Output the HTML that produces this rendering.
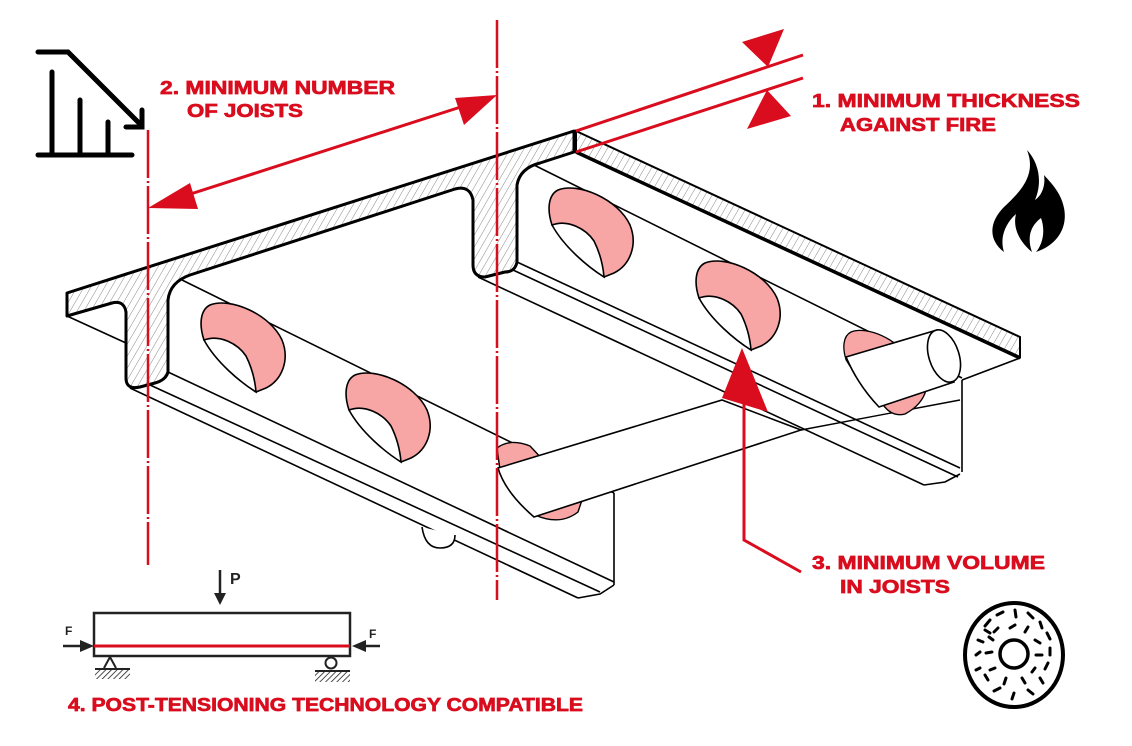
<!DOCTYPE html>
<html><head><meta charset="utf-8"><style>
html,body{margin:0;padding:0;background:#fff;}
svg{display:block;}
.t{font-family:"Liberation Sans",Arial,sans-serif;font-weight:bold;fill:#d90d1e;stroke:#d90d1e;stroke-width:0.7;font-size:18.5px;}
</style></head><body>
<svg width="1132" height="746" viewBox="0 0 1132 746" xmlns="http://www.w3.org/2000/svg">
<defs>
<pattern id="h" width="6" height="6" patternUnits="userSpaceOnUse" patternTransform="rotate(30)">
<rect width="6" height="6" fill="#fff"/><line x1="0" y1="0" x2="0" y2="6" stroke="#888" stroke-width="1"/>
</pattern>
<pattern id="g" width="4" height="4" patternUnits="userSpaceOnUse" patternTransform="rotate(45)">
<rect width="4" height="4" fill="#fff"/><line x1="0" y1="0" x2="0" y2="4" stroke="#222" stroke-width="1.6"/>
</pattern>
<g id="hole">
<path d="M10,5 C30,-3 70,14 82,40 C90,60 82,80 66,88 L56,92 C46,86 30,62 4,40 C-1,25 0,10 10,5 Z" fill="#f8a5a5" stroke="#000" stroke-width="1.6"/>
<path d="M4,40 C20,34 38,44 46,56 C52,68 55,80 56,92 C40,82 16,62 4,40 Z" fill="#fff" stroke="#000" stroke-width="1.6"/>
</g>
</defs>

<g stroke="#000" stroke-width="1.6" fill="none">
<line x1="67" y1="316" x2="126" y2="343"/>
<line x1="182" y1="280" x2="614" y2="493"/>
<line x1="168" y1="372" x2="614" y2="582"/>
<line x1="150" y1="385" x2="600" y2="592"/>
<line x1="130" y1="388" x2="578" y2="598"/>
<line x1="614" y1="493" x2="614" y2="585"/>
<polyline points="578,598 600,594 614,585"/>
<line x1="534" y1="165" x2="962" y2="378"/>
<line x1="517" y1="262" x2="960" y2="468"/>
<line x1="513" y1="270" x2="958" y2="477"/>
<line x1="478" y1="277" x2="924" y2="485"/>
<line x1="962" y1="380" x2="962" y2="472"/>
<polyline points="924,485 945,482 960,474"/>
<line x1="1020" y1="358" x2="962" y2="380"/>
<line x1="801" y1="430" x2="960" y2="400" stroke-width="1.4"/>
<path d="M422,527 Q425,548 440,548 Q455,548 455,535" fill="#fff"/>
</g>

<use href="#hole" transform="translate(200,300)"/>
<use href="#hole" transform="translate(345,370)"/>
<use href="#hole" transform="translate(548,185)"/>
<use href="#hole" transform="translate(695,258)"/>
<use href="#hole" transform="translate(843,328) scale(0.8)"/>
<path d="M497,448 Q510,438 530,446 L545,462 L500,470 Z" fill="#f8a5a5" stroke="#000" stroke-width="1.4"/>
<path d="M535,515 Q560,526 578,512 L582,500 L545,505 Z" fill="#f8a5a5" stroke="#000" stroke-width="1.4"/>
<path d="M880,400 Q890,418 905,414 Q922,405 926,390 L900,392 Z" fill="#f8a5a5" stroke="#000" stroke-width="1.4"/>

<path d="M498,468 L722,400 L801,430 L534,517 Q505,492 498,468 Z" fill="#fff" stroke="#000" stroke-width="1.6"/>
<path d="M846,357 L937,330 L954,382 L879,407 Q858,385 846,357 Z" fill="#fff" stroke="#000" stroke-width="1.6"/>
<ellipse cx="944" cy="356" rx="15" ry="27" transform="rotate(-18 944 356)" fill="#fff" stroke="#000" stroke-width="1.6"/>

<path d="M576,131 L1020,337 L1020,357 L576,152 Z" fill="url(#h)" stroke="#000" stroke-width="2"/>
<line x1="576" y1="152" x2="1020" y2="358" stroke="#000" stroke-width="3.5"/>
<path d="M67,293 L574,131 L574,152 L540,163 Q520,168 517,185 L517,262 Q515,272 505,272 L485,277 Q473,277 473,265 L473,200 Q470,185 455,189 L190,275 Q170,282 168,300 L168,372 Q166,380 155,383 L140,387 Q126,390 126,378 L126,312 Q124,300 112,303 L67,316 Z" fill="url(#h)" stroke="#000" stroke-width="3" stroke-linejoin="round"/>

<g stroke="#d90d1e" fill="#d90d1e">
<line x1="148" y1="130" x2="148" y2="565" stroke-width="2.5" stroke-dasharray="48 3 2 3"/>
<line x1="497" y1="20" x2="497" y2="600" stroke-width="2.5" stroke-dasharray="48 3 2 3"/>
<line x1="175" y1="199" x2="470" y2="104" stroke-width="3"/>
<polygon points="148,208 190,183 198,209" stroke="none"/>
<polygon points="497,95 455,98 464,125" stroke="none"/>
<line x1="576" y1="131" x2="803" y2="55" stroke-width="3"/>
<line x1="576" y1="152" x2="803" y2="78" stroke-width="3"/>
<polygon points="742,42 784,29 768,67" stroke="none"/>
<polygon points="767,90 791,116 747,129" stroke="none"/>
<polyline points="744,395 744,540 801,572" fill="none" stroke-width="3"/>
<polygon points="742,348 722,398 768,412" stroke="none"/>
</g>

<text class="t" x="160" y="94" textLength="235" lengthAdjust="spacingAndGlyphs">2. MINIMUM NUMBER</text>
<text class="t" x="187" y="117" textLength="116" lengthAdjust="spacingAndGlyphs">OF JOISTS</text>
<text class="t" x="812" y="107" textLength="268" lengthAdjust="spacingAndGlyphs">1. MINIMUM THICKNESS</text>
<text class="t" x="840" y="131" textLength="156" lengthAdjust="spacingAndGlyphs">AGAINST FIRE</text>
<text class="t" x="812" y="569" textLength="233" lengthAdjust="spacingAndGlyphs">3. MINIMUM VOLUME</text>
<text class="t" x="840" y="593" textLength="110" lengthAdjust="spacingAndGlyphs">IN JOISTS</text>
<text class="t" x="68" y="711" textLength="515" lengthAdjust="spacingAndGlyphs">4. POST-TENSIONING TECHNOLOGY COMPATIBLE</text>

<g stroke="#000" stroke-width="5" stroke-linecap="round" fill="none">
<polyline points="38,52 68,52 142,126"/>
<polyline points="142,110 142,127 126,127"/>
<line x1="52" y1="72" x2="52" y2="155"/>
<line x1="80" y1="100" x2="80" y2="155"/>
<line x1="108" y1="122" x2="108" y2="155"/>
<line x1="38" y1="155" x2="132" y2="155"/>
</g>

<path d="M1027,150 C1037,175 1020,192 1004,207 C989,222 988,240 1004,252 C999,236 1007,222 1016,214 C1012,230 1022,244 1032,252 C1027,238 1030,226 1041,218 C1046,232 1042,245 1036,252 C1057,245 1068,228 1064,208 C1061,192 1050,182 1044,175 C1046,188 1040,197 1035,200 C1042,184 1040,164 1027,150 Z" fill="#000"/>

<g stroke="#000" fill="none" stroke-linecap="round">
<ellipse cx="1014" cy="655" rx="49" ry="52" stroke-width="4"/>
<circle cx="1014" cy="654" r="14" stroke-width="3.5"/>
<g stroke-width="3">
<path d="M990,620 l-5,6 M1003,612 l-6,3 M1015,610 l1,7 M1028,613 l5,5 M1040,622 l2,6 M1047,633 l3,6 M1050,648 l0,7 M1048,663 l-3,6 M1040,678 l3,5 M1028,690 l5,4 M1014,693 l-2,6 M1000,688 l-6,3 M988,680 l-3,-5 M980,668 l-4,2 M976,655 l4,-3 M978,640 l5,2 M985,630 l5,3 M998,628 l-4,4 M1010,628 l5,-3 M1028,627 l-3,5 M1035,640 l5,3 M1036,655 l6,0 M1035,668 l-3,4 M1022,678 l3,5 M1006,678 l-2,6 M995,668 l-5,2 M992,652 l-6,1 M993,640 l-4,-3"/>
</g>
</g>

<g stroke="#222" fill="none">
<rect x="94" y="613" width="256" height="43" stroke-width="2.5"/>
<line x1="94" y1="646" x2="350" y2="646" stroke="#d90d1e" stroke-width="3"/>
<line x1="220" y1="570" x2="220" y2="594" stroke-width="2.5"/>
<line x1="63" y1="646" x2="80" y2="646" stroke-width="2.5"/>
<line x1="366" y1="646" x2="380" y2="646" stroke-width="2.5"/>
<polyline points="104,668 110,657 116,668" stroke-width="2"/>
<line x1="95" y1="669" x2="130" y2="669" stroke-width="2"/>
<circle cx="331" cy="663" r="5.5" stroke-width="2"/>
<line x1="315" y1="671" x2="350" y2="671" stroke-width="2"/>
</g>
<rect x="95" y="670" width="35" height="9" fill="url(#g)"/>
<rect x="315" y="672" width="35" height="10" fill="url(#g)"/>
<g fill="#222">
<polygon points="214,593 226,593 220,605"/>
<polygon points="80,640 94,646 80,652"/>
<polygon points="366,640 352,646 366,652"/>
</g>
<g font-family="Liberation Sans,Arial,sans-serif" font-weight="bold" fill="#222">
<text x="230" y="584" font-size="16">P</text>
<text x="65" y="635" font-size="12">F</text>
<text x="369" y="638" font-size="12">F</text>
</g>
</svg>
</body></html>
